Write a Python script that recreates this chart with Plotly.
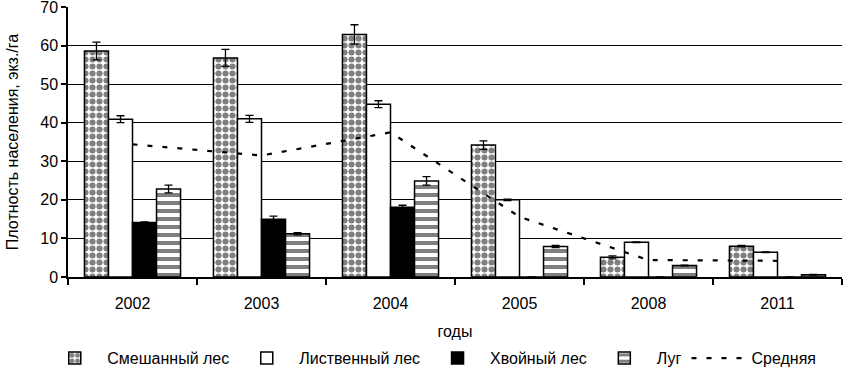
import plotly.graph_objects as go

years = ["2002", "2003", "2004", "2005", "2008", "2011"]

mixed = [58.6, 56.8, 62.9, 34.2, 5.1, 8.0]
mixed_err = [2.3, 2.2, 2.5, 1.1, 0.4, 0.2]

decid = [40.9, 41.0, 44.8, 20.0, 9.0, 6.4]
decid_err = [0.9, 0.9, 0.9, 0.2, 0.1, 0.1]

conif = [14.1, 15.0, 18.1, 0, 0, 0]
conif_err = [0.2, 0.8, 0.5, 0, 0, 0]

meadow = [22.8, 11.2, 24.9, 7.9, 3.0, 0.6]
meadow_err = [1.0, 0.3, 1.1, 0.3, 0.1, 0.1]

average = [34.4, 31.5, 37.5, 15.6, 4.4, 4.2]

FONT = "Liberation Sans, Arial, sans-serif"
err_style = dict(type="data", visible=True, color="black", thickness=1.3, width=4)

fig = go.Figure()
fig.add_trace(go.Bar(
    name="Смешанный лес", x=years, y=mixed,
    error_y=dict(array=mixed_err, **err_style),
    marker=dict(color="white", line=dict(color="black", width=1.5),
                pattern=dict(shape=".", fgcolor="black", bgcolor="white",
                             size=7, solidity=0.6, fillmode="overlay")),
))
fig.add_trace(go.Bar(
    name="Лиственный лес", x=years, y=decid,
    error_y=dict(array=decid_err, **err_style),
    marker=dict(color="white", line=dict(color="black", width=1.5)),
))
fig.add_trace(go.Bar(
    name="Хвойный лес", x=years, y=conif,
    error_y=dict(array=conif_err, **err_style),
    marker=dict(color="black", line=dict(color="black", width=1.5)),
))
fig.add_trace(go.Bar(
    name="Луг", x=years, y=meadow,
    error_y=dict(array=meadow_err, **err_style),
    marker=dict(color="white", line=dict(color="black", width=1.5),
                pattern=dict(shape="-", fgcolor="black", bgcolor="white",
                             size=8, solidity=0.5, fillmode="overlay")),
))
fig.add_trace(go.Scatter(
    name="Средняя", x=years, y=average, mode="lines",
    line=dict(color="black", width=2.2, dash="5px,10px"),
))

fig.update_layout(
    width=843, height=370,
    margin=dict(l=68, r=1, t=7, b=93, autoexpand=False),
    paper_bgcolor="white", plot_bgcolor="white",
    font=dict(family=FONT, size=16, color="black"),
    barmode="group", bargap=0.255, bargroupgap=0,
    showlegend=True,
    legend=dict(orientation="h", x=0.47, xanchor="center",
                yref="container", y=0.032, yanchor="middle",
                font=dict(size=16), itemwidth=55, tracegroupgap=0,
                bgcolor="rgba(0,0,0,0)"),
)
fig.update_xaxes(
    type="category", tickson="boundaries", ticks="outside", ticklen=6,
    tickcolor="black", tickwidth=1.5,
    showline=True, linecolor="black", linewidth=1.5,
    showgrid=False, ticklabelstandoff=11,
    title=dict(text="годы", font=dict(size=16), standoff=15),
    range=[-0.5, 5.5],
)
fig.update_yaxes(
    range=[0, 70], dtick=10, ticks="outside", ticklen=5,
    tickcolor="black", tickwidth=1.5,
    showline=True, linecolor="black", linewidth=1.5,
    showgrid=True, gridcolor="black", gridwidth=1,
    zeroline=False, ticklabeloverflow="allow",
    title=dict(text="Плотность населения, экз./га", font=dict(size=16), standoff=18),
)

fig.write_html("out.html", config={"displayModeBar": False},
               post_script="document.body.style.margin='0';")
